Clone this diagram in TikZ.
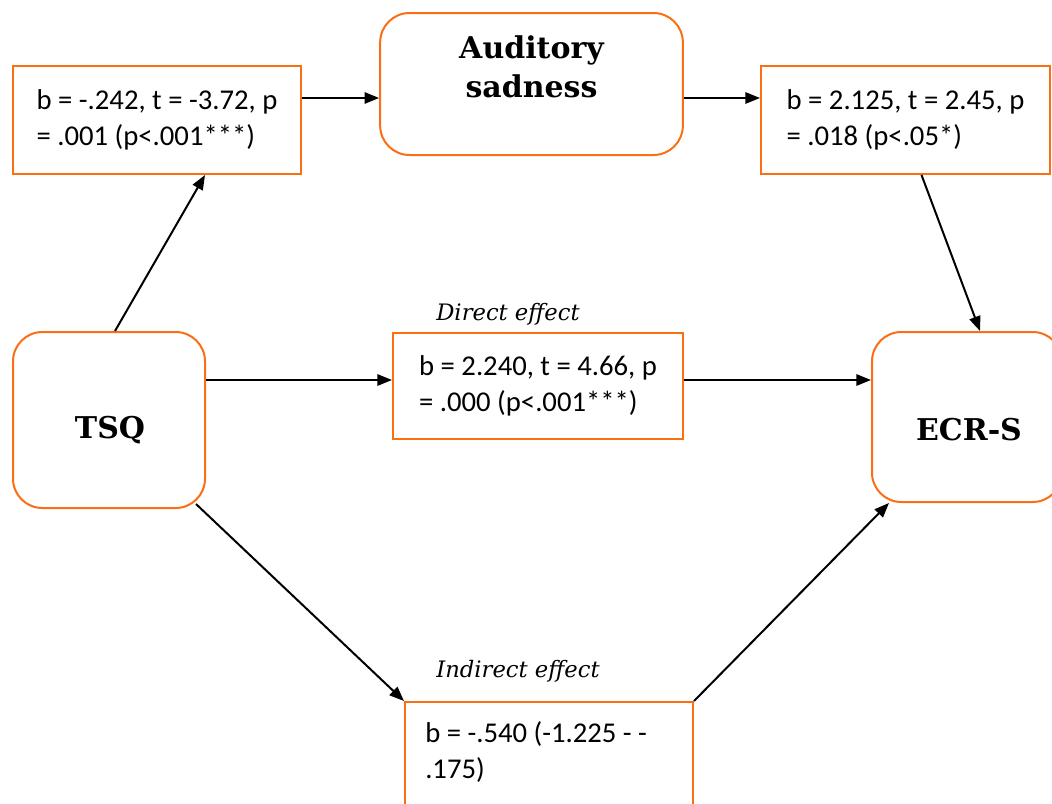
\documentclass[tikz,border=0pt]{standalone}
\usepackage{fontspec}
\setmainfont{Carlito}
\newfontfamily\headfont{DejaVu Serif}
\usetikzlibrary{arrows.meta,calc}
\definecolor{boxorange}{RGB}{250,110,20}
\begin{document}
\begin{tikzpicture}[x=0.75pt,y=-0.75pt,
  statbox/.style={draw=boxorange, line width=1.5pt, rectangle, align=left,
    inner sep=0pt, font=\fontsize{21.5}{27}\selectfont},
  varbox/.style={draw=boxorange, line width=1.5pt, rectangle, rounded corners=22pt, inner sep=0pt},
  vartext/.style={inner sep=0pt, align=center, font=\headfont\bfseries\fontsize{22.5}{29}\selectfont},
  efflabel/.style={inner sep=0pt, font=\headfont\itshape\fontsize{17}{20}\selectfont},
  path/.style={draw=black, line width=1.5pt, -{Triangle[length=11pt,width=8.5pt]}}]
\useasboundingbox (0,0) rectangle (1052,803);

% mediator
\node[varbox, minimum width=227pt, minimum height=106.5pt] (aud) at (531.5,84) {};
\node[vartext] (audtext) at (531.5,67) {Auditory\\sadness};

% predictor and outcome
\node[varbox, minimum width=144pt, minimum height=132pt] (tsq) at (109,420) {};
\node[vartext] (tsqtext) at (110,430) {TSQ};
\node[varbox, minimum width=142.5pt, minimum height=127.5pt] (ecr) at (967,417) {};
\node[vartext] (ecrtext) at (969,430) {ECR-S};

% path coefficients
\node[statbox, minimum width=216pt, minimum height=81pt] (statA) at (157,120)
  {b = -.242, t = -3.72, p\\= .001 (p<.001***)};
\node[statbox, minimum width=216.75pt, minimum height=81pt] (statB) at (905.5,120)
  {b = 2.125, t = 2.45, p\\= .018 (p<.05*)};
\node[statbox, minimum width=217.5pt, minimum height=79.5pt] (direct) at (538,386)
  {b = 2.240, t = 4.66, p\\= .000 (p<.001***)};
\node[efflabel] (directlab) at (508,314) {Direct effect};

\node[statbox, minimum width=216pt, minimum height=103.5pt] (ind) at (549,771) {};
\node[inner sep=0pt, anchor=west, align=left, font=\fontsize{21.5}{27}\selectfont]
  (indtext) at (425,752) {b = -.540 (-1.225 - -\\.175)};
\node[efflabel] (indlab) at (518,671) {Indirect effect};

% connectors
\draw[path] ($(tsq.north)+(6,0)$) -- ($(statA.south)+(48,0)$);
\draw[path] ($(statA.east)+(0,-22)$) -- ($(aud.west)+(0,14)$);
\draw[path] ($(aud.east)+(0,14)$) -- ($(statB.west)+(0,-22)$);
\draw[path] ($(statB.south)+(16,0)$) -- ($(ecr.north)+(13,0)$);
\draw[path] ($(tsq.east)+(0,-40)$) -- ($(direct.west)+(0,-6)$);
\draw[path] ($(direct.east)+(0,-6)$) -- ($(ecr.west)+(0,-37)$);
\draw[path] ($(tsq.south east)+(-10,-5)$) -- (ind.north west);
\draw[path] (ind.north east) -- ($(ecr.south west)+(18,0)$);
\end{tikzpicture}
\end{document}
